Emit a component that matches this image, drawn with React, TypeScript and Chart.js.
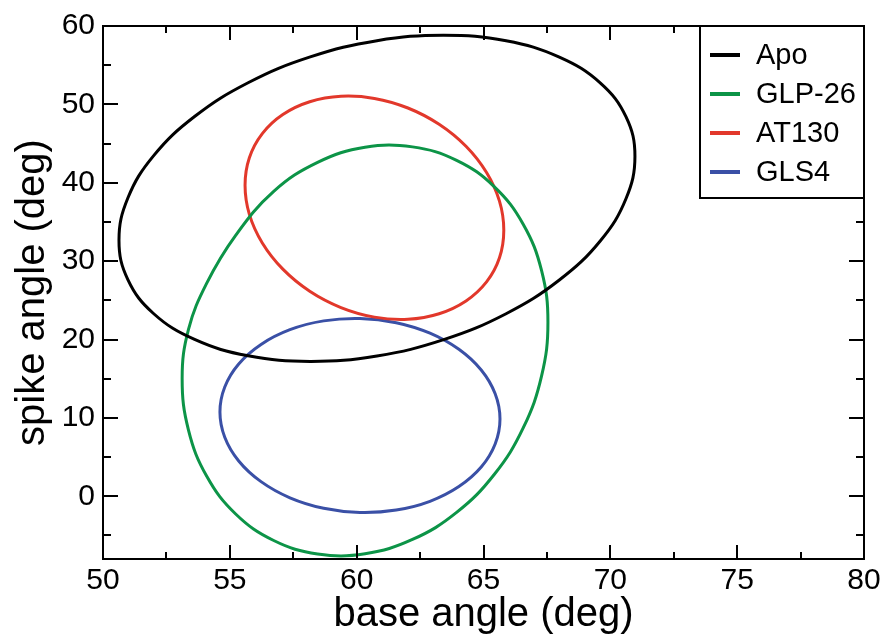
import { useEffect, useRef } from "react";
import { Chart, registerables } from "chart.js";

Chart.register(...registerables);

const seriesLabels = ["Apo", "GLP-26", "AT130", "GLS4"];
const seriesColors = ["#000000", "#0c9447", "#e2382b", "#3a50a6"];

const apoX = [70.97, 70.62, 69.61, 67.99, 65.89, 63.43, 60.8, 58.17, 55.72, 53.61, 51.99, 50.98, 50.63, 50.98, 51.99, 53.61, 55.72, 58.17, 60.8, 63.43, 65.89, 67.99, 69.61, 70.62];
const apoY = [43.38, 48.4, 52.72, 56.03, 58.12, 58.83, 58.13, 56.06, 52.76, 48.45, 43.43, 38.05, 32.66, 27.64, 23.32, 20.01, 17.93, 17.21, 17.91, 19.98, 23.29, 27.59, 32.61, 37.99];

const glpX = [67.54, 67.29, 66.57, 65.43, 63.94, 62.2, 60.33, 58.46, 56.73, 55.23, 54.09, 53.37, 53.12, 53.37, 54.09, 55.23, 56.73, 58.46, 60.33, 62.2, 63.94, 65.43, 66.57, 67.29];
const glpY = [22.19, 28.78, 34.68, 39.48, 42.86, 44.58, 44.54, 42.6, 38.9, 33.3, 27.2, 21.3, 15.03, 8.44, 2.55, -2.26, -5.64, -7.36, -7.32, -5.51, -2.06, 2.81, 8.75, 15.36];

const atX = [65.8, 65.63, 65.12, 64.31, 63.25, 62.02, 60.7, 59.38, 58.15, 57.09, 56.28, 55.77, 55.6, 55.77, 56.28, 57.09, 58.15, 59.38, 60.7, 62.02, 63.25, 64.31, 65.12, 65.63];
const atY = [33.94, 37.65, 41.3, 44.65, 47.46, 49.54, 50.76, 51.03, 50.33, 48.7, 46.27, 43.19, 39.68, 35.97, 32.32, 28.98, 26.16, 24.08, 22.86, 22.59, 23.29, 24.92, 27.35, 30.43];

const glsX = [65.65, 65.46, 64.91, 64.03, 62.89, 61.56, 60.13, 58.7, 57.37, 56.23, 55.35, 54.8, 54.61, 54.8, 55.35, 56.23, 57.37, 58.7, 60.13, 61.56, 62.89, 64.03, 64.91, 65.46];
const glsY = [9.86, 13.08, 16.11, 18.75, 20.81, 22.15, 22.69, 22.38, 21.26, 19.38, 16.89, 13.95, 10.76, 7.54, 4.51, 1.87, -0.19, -1.53, -2.07, -1.76, -0.64, 1.24, 3.73, 6.67];

const xTicks = [50, 55, 60, 65, 70, 75, 80];
const xMinorTicks = [52.5, 57.5, 62.5, 67.5, 72.5, 77.5];
const yTicks = [0, 10, 20, 30, 40, 50, 60];
const yMinorTicks = [-5, 5, 15, 25, 35, 45, 55];

const FONT = "'Liberation Sans', Arial, Helvetica, sans-serif";

// closed loop: wrap one extra point on each side so the spline is smooth at the seam;
// the two wrap segments are drawn transparent.
function loop(xs: number[], ys: number[]) {
  const n = xs.length;
  const idx = [n - 1, ...xs.map((_, i) => i), 0, 1];
  return idx.map((i) => ({ x: xs[i], y: ys[i] }));
}

const framePlugin = {
  id: "frameTicksLegend",
  afterDatasetsDraw(chart: any) {
    const { ctx, chartArea, scales } = chart;
    const { left, right, top, bottom } = chartArea;
    const xs = scales.x;
    const ys = scales.y;
    ctx.save();
    ctx.strokeStyle = "#000";
    ctx.lineWidth = 2;
    ctx.lineCap = "butt";
    ctx.beginPath();
    const tick = (x1: number, y1: number, x2: number, y2: number) => {
      ctx.moveTo(x1, y1);
      ctx.lineTo(x2, y2);
    };
    xTicks.forEach((v) => {
      const p = Math.round(xs.getPixelForValue(v));
      tick(p, bottom, p, bottom - 14);
      tick(p, top, p, top + 14);
    });
    xMinorTicks.forEach((v) => {
      const p = Math.round(xs.getPixelForValue(v));
      tick(p, bottom, p, bottom - 7);
      tick(p, top, p, top + 7);
    });
    yTicks.forEach((v) => {
      const p = Math.round(ys.getPixelForValue(v));
      tick(left, p, left + 15, p);
      tick(right, p, right - 15, p);
    });
    yMinorTicks.forEach((v) => {
      const p = Math.round(ys.getPixelForValue(v));
      tick(left, p, left + 8, p);
      tick(right, p, right - 8, p);
    });
    ctx.stroke();
    ctx.strokeRect(left, top, right - left, bottom - top);

    // legend box
    const boxL = 700;
    const boxT = top;
    const boxR = right;
    const boxB = 198;
    ctx.fillStyle = "#fff";
    ctx.fillRect(boxL, boxT, boxR - boxL, boxB - boxT);
    ctx.strokeRect(boxL, boxT, boxR - boxL, boxB - boxT);
    ctx.font = `29px ${FONT}`;
    ctx.textBaseline = "middle";
    ctx.textAlign = "left";
    chart.data.datasets.forEach((ds: any, i: number) => {
      const y = 55 + i * 39;
      ctx.strokeStyle = ds.borderColor;
      ctx.lineWidth = 4;
      ctx.beginPath();
      ctx.moveTo(710, y);
      ctx.lineTo(740, y);
      ctx.stroke();
      ctx.fillStyle = "#000";
      ctx.fillText(ds.label, 756, y + 1);
    });
    ctx.restore();
  },
};

export default function App() {
  const ref = useRef<HTMLCanvasElement | null>(null);
  useEffect(() => {
    if (!ref.current) return;
    const seriesData = [loop(apoX, apoY), loop(glpX, glpY), loop(atX, atY), loop(glsX, glsY)];
    const chart = new Chart(ref.current, {
      type: "scatter",
      data: {
        datasets: seriesData.map((d, i) => ({
          label: seriesLabels[i],
          data: d,
          showLine: true,
          borderColor: seriesColors[i],
          backgroundColor: seriesColors[i],
          borderWidth: 3,
          pointRadius: 0,
          tension: 0.4,
          fill: false,
          segment: {
            borderColor: (c: any) =>
              c.p0DataIndex === 0 || c.p1DataIndex === d.length - 1 ? "rgba(0,0,0,0)" : undefined,
          },
        })),
      },
      options: {
        animation: false,
        responsive: true,
        maintainAspectRatio: false,
        layout: { padding: { top: 25, right: 23, left: 0, bottom: 0 } },
        plugins: { legend: { display: false }, tooltip: { enabled: false } },
        scales: {
          x: {
            type: "linear",
            min: 50,
            max: 80,
            afterFit: (s: any) => {
              s.height = 82;
            },
            afterBuildTicks: (s: any) => {
              s.ticks = xTicks.map((v) => ({ value: v }));
            },
            grid: { display: false, drawTicks: false },
            border: { display: false },
            ticks: { color: "#000", padding: 4, font: { family: FONT, size: 30 }, maxRotation: 0 },
            title: {
              display: true,
              text: "base angle (deg)",
              color: "#000",
              font: { family: FONT, size: 40 },
              padding: { top: 0, bottom: 2 },
            },
          },
          y: {
            type: "linear",
            min: -8,
            max: 60,
            afterFit: (s: any) => {
              s.width = 103;
            },
            afterBuildTicks: (s: any) => {
              s.ticks = yTicks.map((v) => ({ value: v }));
            },
            grid: { display: false, drawTicks: false },
            border: { display: false },
            ticks: { color: "#000", padding: 8, font: { family: FONT, size: 30 } },
            title: {
              display: true,
              text: "spike angle (deg)",
              color: "#000",
              font: { family: FONT, size: 40 },
              padding: { top: 9, bottom: 0 },
            },
          },
        },
      },
      plugins: [framePlugin],
    });
    return () => chart.destroy();
  }, []);
  return (
    <div style={{ position: "fixed", left: 0, top: 0, width: 887, height: 641, background: "#fff" }}>
      <canvas ref={ref} />
    </div>
  );
}
